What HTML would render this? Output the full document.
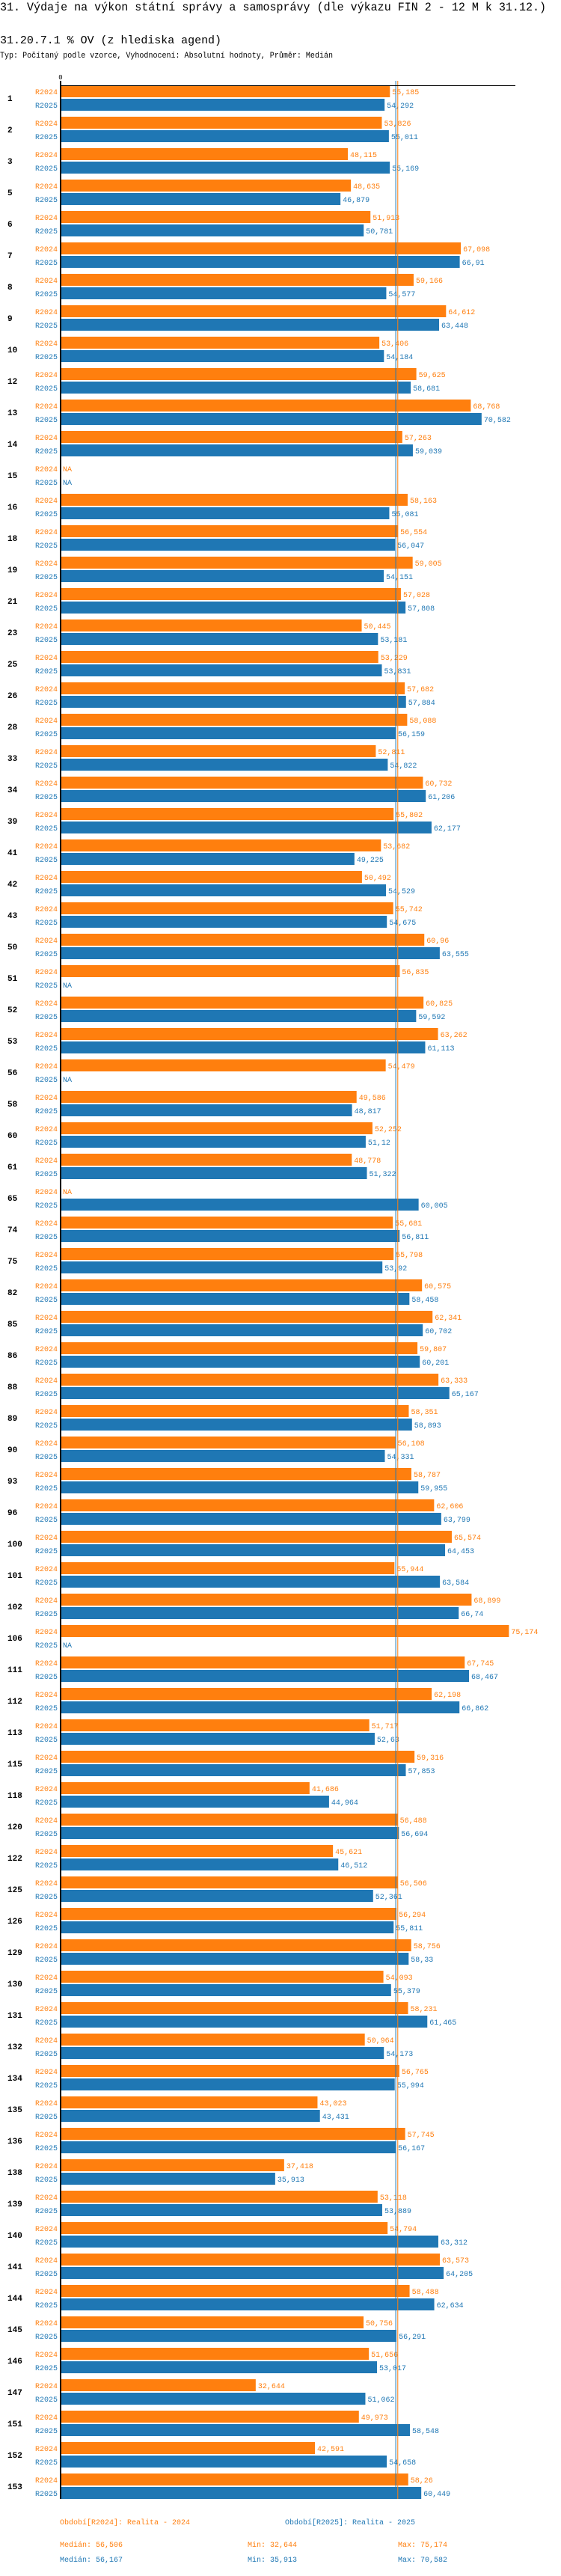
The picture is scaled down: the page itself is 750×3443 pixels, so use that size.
<!DOCTYPE html>
<html><head><meta charset="utf-8">
<style>
html,body{margin:0;padding:0;background:#fff;}
body{width:750px;height:3438px;overflow:hidden;font-family:"Liberation Mono",monospace;}
svg text{font-family:"Liberation Mono","DejaVu Sans Mono",monospace;}
</style></head>
<body>
<svg id="chart" width="750" height="3438" xmlns="http://www.w3.org/2000/svg">
<text x="0" y="14" font-size="16" textLength="730" lengthAdjust="spacingAndGlyphs">31. Výdaje na výkon státní správy a samosprávy (dle výkazu FIN 2 - 12 M k 31.12.)</text>
<text x="0" y="58" font-size="15" textLength="296" lengthAdjust="spacingAndGlyphs">31.20.7.1 % OV (z hlediska agend)</text>
<text x="0" y="77" font-size="11" textLength="445" lengthAdjust="spacingAndGlyphs">Typ: Počítaný podle vzorce, Vyhodnocení: Absolutní hodnoty, Průměr: Medián</text>
<g id="plot"></g>
<text x="80" y="3374" font-size="10" fill="#ff7f0e">Období[R2024]: Realita - 2024</text>
<text x="381" y="3374" font-size="10" fill="#1f77b4">Období[R2025]: Realita - 2025</text>
<text x="80" y="3404" font-size="10" fill="#ff7f0e">Medián: 56,506</text>
<text x="331" y="3404" font-size="10" fill="#ff7f0e">Min: 32,644</text>
<text x="532" y="3404" font-size="10" fill="#ff7f0e">Max: 75,174</text>
<text x="80" y="3424" font-size="10" fill="#1f77b4">Medián: 56,167</text>
<text x="331" y="3424" font-size="10" fill="#1f77b4">Min: 35,913</text>
<text x="532" y="3424" font-size="10" fill="#1f77b4">Max: 70,582</text>
</svg>
<script>
const categories = ["1","2","3","5","6","7","8","9","10","12","13","14","15","16","18","19","21","23","25","26","28","33","34","39","41","42","43","50","51","52","53","56","58","60","61","65","74","75","82","85","86","88","89","90","93","96","100","101","102","106","111","112","113","115","118","120","122","125","126","129","130","131","132","134","135","136","138","139","140","141","144","145","146","147","151","152","153"];
const values2024 = [55.185,53.826,48.115,48.635,51.913,67.098,59.166,64.612,53.406,59.625,68.768,57.263,null,58.163,56.554,59.005,57.028,50.445,53.229,57.682,58.088,52.811,60.732,55.802,53.682,50.492,55.742,60.96,56.835,60.825,63.262,54.479,49.586,52.252,48.778,null,55.681,55.798,60.575,62.341,59.807,63.333,58.351,56.108,58.787,62.606,65.574,55.944,68.899,75.174,67.745,62.198,51.717,59.316,41.686,56.488,45.621,56.506,56.294,58.756,54.093,58.231,50.964,56.765,43.023,57.745,37.418,53.118,54.794,63.573,58.488,50.756,51.656,32.644,49.973,42.591,58.26];
const values2025 = [54.292,55.011,55.169,46.879,50.781,66.91,54.577,63.448,54.184,58.681,70.582,59.039,null,55.081,56.047,54.151,57.808,53.181,53.831,57.884,56.159,54.822,61.206,62.177,49.225,54.529,54.675,63.555,null,59.592,61.113,null,48.817,51.12,51.322,60.005,56.811,53.92,58.458,60.702,60.201,65.167,58.893,54.331,59.955,63.799,64.453,63.584,66.74,null,68.467,66.862,52.63,57.853,44.964,56.694,46.512,52.361,55.811,58.33,55.379,61.465,54.173,55.994,43.431,56.167,35.913,53.889,63.312,64.205,62.634,56.291,53.017,51.062,58.548,54.658,60.449];
const medians = [56.506, 56.167];
const seriesNames = ["R2024","R2025"];

const NS="http://www.w3.org/2000/svg";
const plot=document.getElementById('plot');
const X0=82, SCALE=7.96, TOP=114, PITCH=42, BH=16;
const xScale=v=>X0+v*SCALE;
const yBand=i=>TOP+i*PITCH;
const colors=["#ff7f0e","#1f77b4"];
const bottom=yBand(categories.length)-8;
function mk(tag,attrs){const e=document.createElementNS(NS,tag);for(const k in attrs)e.setAttribute(k,attrs[k]);plot.appendChild(e);return e;}
const fmt=v=>String(v).replace('.',',');

categories.forEach((c,i)=>{
  const y=yBand(i);
  const g=mk('text',{x:10,y:y+BH/2+4+9,'font-size':11,'font-weight':'bold',fill:'#000'});
  g.textContent=c;
  
  
  [values2024,values2025].forEach((arr,s)=>{
    const by=y+s*18;
    const lab=mk('text',{x:77,y:by+12,'font-size':10,'text-anchor':'end',fill:colors[s]});
    lab.textContent=seriesNames[s];
    
    
    const v=arr[i];
    if(v===null){
      const na=mk('text',{x:84,y:by+12,'font-size':10,fill:colors[s]});
      na.textContent='NA';
      
      
      return;
    }
    const r=mk('rect',{x:X0,y:by,width:xScale(v)-X0,height:BH,fill:colors[s]});
    
    
    const t=mk('text',{x:xScale(v)+3,y:by+12,'font-size':10,fill:colors[s]});
    t.textContent=fmt(v);
    
    
  });
});
medians.forEach((m,s)=>{
  const l=mk('line',{x1:xScale(m),x2:xScale(m),y1:108,y2:bottom,stroke:colors[s],'stroke-width':1});
  
  
});
const ax=mk('line',{x1:81,x2:81,y1:108,y2:bottom,stroke:'#000','stroke-width':2});


const hx=mk('line',{x1:81,x2:689,y1:114.5,y2:114.5,stroke:'#000','stroke-width':1});


const z=mk('text',{x:81,y:106,'font-size':9,'text-anchor':'middle',fill:'#000'});
z.textContent='0';


</script>
</body></html>
